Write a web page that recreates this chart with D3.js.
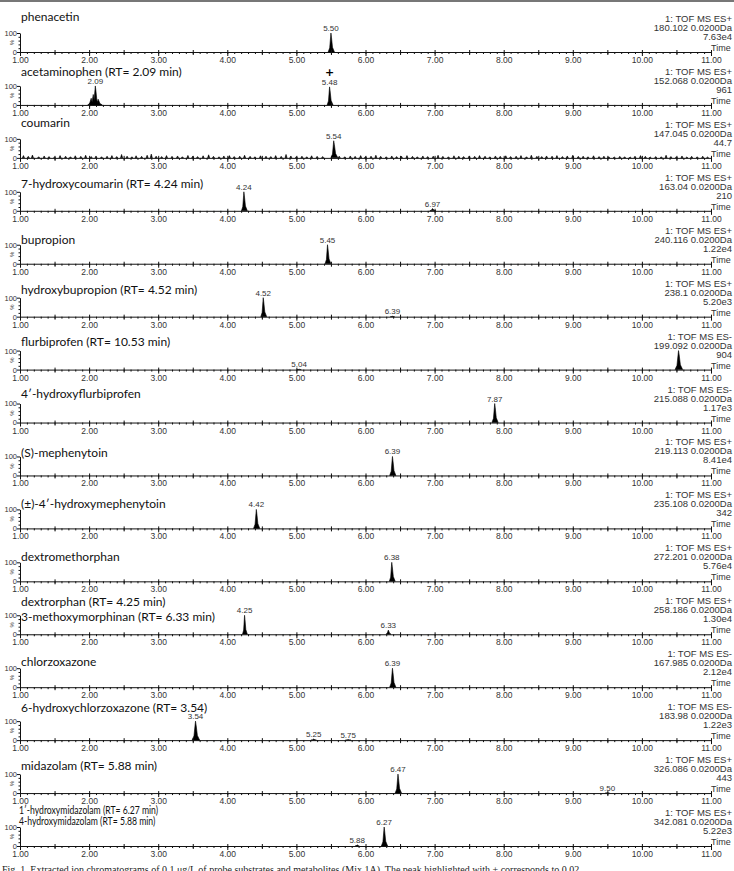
<!DOCTYPE html>
<html lang="en">
<head>
<meta charset="utf-8">
<title>Extracted ion chromatograms</title>
<script src="https://d3js.org/d3.v7.min.js"></script>
<style>
    body {
        margin: 0;
        background: #fff;
    }
    svg {
        display: block;
    }
    text.title {
        font-family: Lato, 'Open Sans', sans-serif;
        font-size: 12px;
        fill: #111;
    }
    text.info, text.tick-label, text.peak, text.ylab, text.time {
        font-family: 'Liberation Sans', Arial, sans-serif;
        fill: #333;
    }
    text.info {
        font-size: 9.5px;
    }
    text.time {
        font-size: 9px;
    }
    text.tick-label {
        font-size: 8.5px;
    }
    text.peak {
        font-size: 8px;
    }
    text.ylab {
        font-size: 7.5px;
    }
    text.caption {
        font-family: 'Liberation Serif', serif;
        font-size: 10px;
        fill: #222;
    }
    .axis path, .axis line {
        stroke: #111;
        stroke-width: 1;
    }
    .peakArea {
        fill: #000;
        stroke: #000;
        stroke-width: 0.6;
    }
</style>
</head>
<body>
<svg id="chart" width="734" height="871"></svg>
<script>
// --- data ---------------------------------------------------------------
const panelTitles = [
    ['phenacetin'],
    ['acetaminophen (RT= 2.09 min)'],
    ['coumarin'],
    ['7-hydroxycoumarin (RT= 4.24 min)'],
    ['bupropion'],
    ['hydroxybupropion (RT= 4.52 min)'],
    ['flurbiprofen (RT= 10.53 min)'],
    ['4\u2032-hydroxyflurbiprofen'],
    ['(S)-mephenytoin'],
    ['(\u00b1)-4\u2032-hydroxymephenytoin'],
    ['dextromethorphan'],
    ['dextrorphan (RT= 4.25 min)', '3-methoxymorphinan (RT= 6.33 min)'],
    ['chlorzoxazone'],
    ['6-hydroxychlorzoxazone (RT= 3.54)'],
    ['midazolam (RT= 5.88 min)'],
    ['1\u2032-hydroxymidazolam (RT= 6.27 min)', '4-hydroxymidazolam (RT= 5.88 min)']
];

const scanModes = ['ES+', 'ES+', 'ES+', 'ES+', 'ES+', 'ES+', 'ES-', 'ES-',
                   'ES+', 'ES+', 'ES+', 'ES+', 'ES-', 'ES-', 'ES+', 'ES+'];

const massWindows = ['180.102', '152.068', '147.045', '163.04', '240.116', '238.1',
                     '199.092', '215.088', '219.113', '235.108', '272.201', '258.186',
                     '167.985', '183.98', '326.086', '342.081'];

const intensities = ['7.63e4', '961', '44.7', '210', '1.22e4', '5.20e3', '904', '1.17e3',
                     '8.41e4', '342', '5.76e4', '1.30e4', '2.12e4', '1.22e3', '443', '5.22e3'];

// peaks per panel: [retention time, relative height %, left width, right width, label]
const peaks = [
    [[5.50, 100, 0.04, 0.05, '5.50']],
    [[2.03, 35, 0.05, 0.04, null], [2.06, 55, 0.04, 0.04, null], [2.09, 100, 0.04, 0.05, '2.09'],
     [2.13, 30, 0.03, 0.06, null], [5.48, 95, 0.035, 0.05, '5.48']],
    [[5.54, 90, 0.04, 0.06, '5.54']],
    [[4.24, 100, 0.035, 0.05, '4.24'], [6.97, 12, 0.04, 0.05, '6.97']],
    [[5.45, 100, 0.035, 0.05, '5.45']],
    [[4.52, 100, 0.035, 0.05, '4.52'], [6.39, 2, 0.03, 0.03, '6.39']],
    [[5.04, 2, 0.03, 0.03, '5.04'], [10.53, 100, 0.05, 0.06, null]],
    [[7.87, 100, 0.04, 0.05, '7.87']],
    [[6.39, 100, 0.04, 0.05, '6.39']],
    [[4.42, 100, 0.04, 0.05, '4.42']],
    [[6.38, 100, 0.035, 0.05, '6.38']],
    [[4.25, 100, 0.03, 0.04, '4.25'], [6.33, 22, 0.035, 0.04, '6.33']],
    [[6.39, 100, 0.04, 0.05, '6.39']],
    [[3.54, 100, 0.05, 0.06, '3.54'], [5.25, 6, 0.04, 0.04, '5.25'], [5.75, 3, 0.04, 0.04, '5.75']],
    [[6.47, 100, 0.04, 0.05, '6.47'], [9.50, 2, 0.03, 0.03, '9.50']],
    [[5.88, 6, 0.03, 0.03, '5.88'], [6.27, 100, 0.04, 0.05, '6.27']]
];

// marked peak (panel index, retention time)
const markedPeaks = [[1, 5.48]];

// coumarin background noise spikes: [retention time, relative height %]
const coumarinNoise = [
    [1.05, 12], [1.12, 8], [1.18, 15], [1.27, 6], [1.35, 10], [1.42, 7], [1.50, 5], [1.58, 12],
    [1.66, 9], [1.73, 6], [1.80, 11], [1.88, 8], [1.95, 14], [2.03, 7], [2.10, 10], [2.18, 6],
    [2.26, 9], [2.33, 12], [2.40, 7], [2.47, 18], [2.55, 9], [2.62, 6], [2.68, 11], [2.76, 8],
    [2.84, 14], [2.90, 20], [2.97, 9], [3.05, 7], [3.12, 12], [3.20, 8], [3.28, 10], [3.35, 6],
    [3.43, 13], [3.50, 9], [3.57, 7], [3.65, 11], [3.73, 16], [3.80, 8], [3.88, 6], [3.95, 10],
    [4.03, 12], [4.10, 7], [4.18, 9], [4.25, 14], [4.33, 8], [4.40, 6], [4.48, 11], [4.56, 9],
    [4.63, 7], [4.70, 12], [4.78, 8], [4.85, 18], [4.92, 10], [5.00, 7], [5.08, 9], [5.15, 6],
    [5.22, 11], [5.30, 8], [5.38, 7], [5.62, 9], [5.70, 6], [5.78, 10], [5.85, 8], [5.93, 12],
    [6.00, 7], [6.08, 9], [6.15, 14], [6.22, 8], [6.30, 6], [6.38, 10], [6.45, 7], [6.52, 9],
    [6.60, 12], [6.68, 8], [6.75, 6], [6.83, 10], [6.90, 7], [6.98, 9], [7.05, 14], [7.12, 8],
    [7.20, 6], [7.28, 11], [7.35, 9], [7.42, 7], [7.50, 10], [7.58, 8], [7.65, 12], [7.73, 9],
    [7.80, 6], [7.88, 10], [7.95, 8], [8.03, 11], [8.10, 7], [8.18, 9], [8.25, 12], [8.33, 6],
    [8.40, 14], [8.48, 8], [8.55, 7], [8.62, 10], [8.70, 9], [8.77, 12], [8.85, 7], [8.92, 10],
    [9.00, 14], [9.08, 8], [9.15, 9], [9.22, 6], [9.30, 11], [9.38, 7], [9.45, 9], [9.52, 6],
    [9.60, 5], [9.68, 8], [9.75, 6], [9.83, 5], [9.90, 9], [9.98, 12], [10.05, 8], [10.12, 5],
    [10.20, 7], [10.28, 6], [10.35, 14], [10.42, 7], [10.50, 6], [10.58, 10], [10.65, 5],
    [10.72, 8], [10.80, 6], [10.88, 9], [10.95, 5]
];

const timeTicks = [1, 2, 3, 4, 5, 6, 7, 8, 9, 10, 11];
const timeDomain = [1, 11];
const yTicks = [0, 100];

// --- layout ---------------------------------------------------------------
const W = 734, H = 871;
const left = 20, right = 711;
const plotH = 19;
// title baseline offsets relative to each panel's axis
const titleOffsets = [-31, -29, -31, -23, -20, -23, -24, -25, -18, -20, -20, -28, -21, -28, -23, -32];

const svg = d3.select('#chart');

svg.append('rect').attr('width', W).attr('height', H).attr('fill', '#fff');

// top rule
svg.append('line')
    .attr('x1', 0).attr('x2', W)
    .attr('y1', 1).attr('y2', 1)
    .attr('stroke', '#777')
    .attr('stroke-width', 2);

const x = d3.scaleLinear().domain(timeDomain).range([left, right]);
const y = d3.scaleLinear().domain([0, 100]).range([0, -plotH]);
const panelY = d3.scalePoint()
    .domain(d3.range(panelTitles.length))
    .range([52, 846]);

const area = d3.area()
    .x(d => x(d[0]))
    .y0(0)
    .y1(d => y(d[1]));

// turn a peak into an outline (spiky chromatographic shape)
function peakShape(p) {
    const [rt, h, lw, rw] = p;
    return [
        [rt - lw, 0],
        [rt - lw * 0.45, h * 0.22],
        [rt - lw * 0.12, h * 0.8],
        [rt, h],
        [rt + rw * 0.15, h * 0.78],
        [rt + rw * 0.45, h * 0.25],
        [rt + rw, 0]
    ];
}

panelTitles.forEach((lines, i) => {
    const g = svg.append('g')
        .attr('transform', `translate(0, ${panelY(i)})`);

    // titles (the last panel is set narrower in the original)
    const last = i === panelTitles.length - 1;
    lines.forEach((t, k) => {
        const ty = titleOffsets[i] + k * (last ? 11 : 15);
        g.append('text')
            .attr('class', 'title')
            .attr('transform', last ? `translate(${left - 1}, ${ty}) scale(0.72, 1)` : `translate(${left + 1}, ${ty})`)
            .style('font-size', last ? '12px' : null)
            .text(t);
    });

    // right info block
    const info = [`1: TOF MS ${scanModes[i]}`, `${massWindows[i]} 0.0200Da`, intensities[i]];
    info.forEach((t, k) => {
        g.append('text')
            .attr('class', 'info')
            .attr('x', W - 2)
            .attr('y', -30 + k * 9)
            .attr('text-anchor', 'end')
            .text(t);
    });

    // noise (coumarin trace)
    if (i === 2) {
        g.selectAll('path.noise')
            .data(coumarinNoise)
            .enter()
            .append('path')
            .attr('class', 'peakArea')
            .attr('d', d => area([[d[0] - 0.015, 0], [d[0], d[1]], [d[0] + 0.015, 0]]));
    }

    // peaks
    g.selectAll('path.peak')
        .data(peaks[i])
        .enter()
        .append('path')
        .attr('class', 'peakArea')
        .attr('d', d => area(peakShape(d)));

    g.selectAll('text.peak')
        .data(peaks[i].filter(d => d[4]))
        .enter()
        .append('text')
        .attr('class', 'peak')
        .attr('x', d => x(d[0]))
        .attr('y', d => y(d[1]) - 2)
        .attr('text-anchor', 'middle')
        .text(d => d[4]);

    markedPeaks.filter(m => m[0] === i).forEach(m => {
        g.append('text')
            .attr('x', x(m[1]))
            .attr('y', y(100) - 10)
            .attr('text-anchor', 'middle')
            .style('font-family', 'DejaVu Sans, sans-serif')
            .style('font-size', '11px')
            .style('font-weight', 'bold')
            .text('+');
    });

    // x axis: minor, half and major ticks
    const minor = g.append('g').attr('class', 'axis')
        .call(d3.axisBottom(x).ticks(100).tickSize(2).tickFormat('').tickSizeOuter(0));
    minor.select('.domain').remove();

    const half = g.append('g').attr('class', 'axis')
        .call(d3.axisBottom(x)
            .tickValues(timeTicks.slice(0, -1).map(t => t + 0.5))
            .tickSize(3).tickFormat('').tickSizeOuter(0));
    half.select('.domain').remove();
    half.selectAll('.tick line').attr('y1', -2);

    const major = g.append('g').attr('class', 'axis')
        .call(d3.axisBottom(x)
            .tickValues(timeTicks)
            .tickSize(4)
            .tickSizeOuter(0)
            .tickFormat(d3.format('.2f')));
    major.attr('font-size', null).attr('font-family', null);
    major.selectAll('.tick line').attr('y1', -2);
    major.selectAll('.tick text')
        .attr('class', 'tick-label')
        .attr('y', 5)
        .attr('dy', '0.71em');

    g.append('text')
        .attr('class', 'time')
        .attr('x', right)
        .attr('y', -1)
        .text('Time');

    // y axis
    const yAxis = g.append('g').attr('class', 'axis')
        .attr('transform', `translate(${left}, 0)`)
        .call(d3.axisLeft(y).tickValues(yTicks).tickSize(3).tickSizeOuter(0));
    yAxis.attr('font-size', null).attr('font-family', null);
    yAxis.selectAll('.tick text')
        .attr('class', 'ylab')
        .attr('x', -3);
    g.append('g').attr('class', 'axis')
        .attr('transform', `translate(${left}, 0)`)
        .call(d3.axisLeft(y).tickValues([20, 40, 60, 80]).tickSize(1.5).tickFormat('').tickSizeOuter(0))
        .select('.domain').remove();

    g.append('text')
        .attr('class', 'ylab')
        .attr('transform', `translate(14, ${y(50)}) rotate(-90)`)
        .attr('text-anchor', 'middle')
        .style('font-size', '6px')
        .text('%');
});

// caption, cut by the bottom edge of the page
svg.append('text')
    .attr('class', 'caption')
    .attr('x', 2)
    .attr('y', 873)
    .text('Fig. 1. Extracted ion chromatograms of 0.1 \u03bcg/L of probe substrates and metabolites (Mix 1A). The peak highlighted with + corresponds to 0.02');
</script>
</body>
</html>
